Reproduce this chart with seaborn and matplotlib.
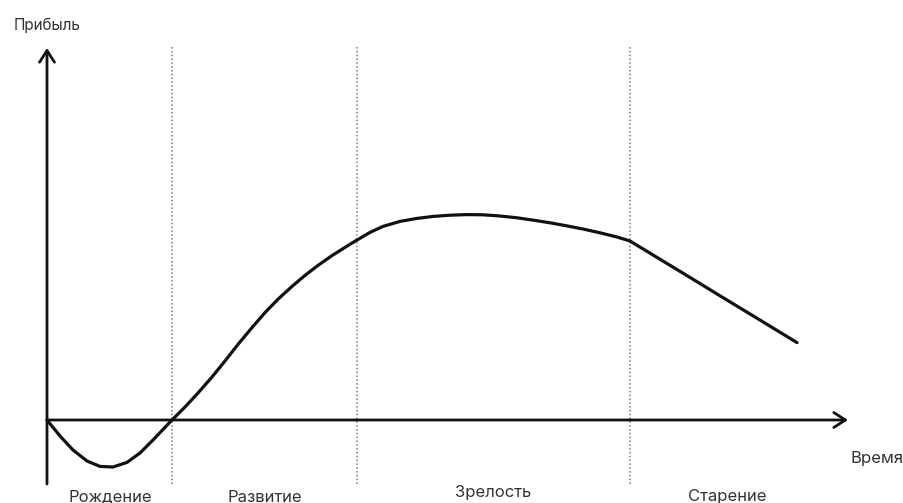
import numpy as np
import pandas as pd
import matplotlib
matplotlib.use("Agg")
import matplotlib.pyplot as plt
import seaborn as sns

# Profit curve over time (arbitrary units)
time = [0.0, 0.26, 0.52, 0.8, 1.06, 1.32, 1.6, 1.86, 2.12, 2.5,
        2.76, 3.02, 3.3, 3.56, 3.82, 4.1, 4.36, 4.62, 4.9, 5.16, 5.42, 5.7, 5.96, 6.2,
        6.46, 6.72, 7.06, 7.4, 7.73, 8.06, 8.4, 8.72, 9.06, 9.4, 9.73, 10.06, 10.39,
        10.72, 11.06, 11.4, 11.66,
        12.12, 12.8, 13.46, 14.12, 15.0]
profit = [0.0, -0.8, -1.5, -2.05, -2.32, -2.35, -2.12, -1.65, -1.0, 0.0,
          0.65, 1.35, 2.15, 2.95, 3.78, 4.62, 5.37, 6.04, 6.68, 7.23, 7.73, 8.22, 8.63, 9.0,
          9.38, 9.68, 9.93, 10.08, 10.18, 10.24, 10.27, 10.26, 10.2, 10.11, 9.99, 9.86, 9.71,
          9.55, 9.36, 9.15, 8.95,
          8.25, 7.22, 6.21, 5.21, 3.87]

# Stage boundaries and names
boundaries = [2.5, 6.2, 11.66]
stages = ["Рождение", "Развитие", "Зрелость", "Старение"]
stage_x = [1.26, 4.36, 8.92, 13.6]
stage_y = [-3.85, -3.85, -3.65, -3.85]

df = pd.DataFrame({"Время": time, "Прибыль": profit})

sns.set_theme(style="white")
plt.rcParams['font.family'] = ['Inter', 'DejaVu Sans']

fig = plt.figure(figsize=(9.04, 5.03), dpi=100)
ax = fig.add_axes([0, 0, 1, 1])

# Dotted stage separators
for b in boundaries:
    ax.plot([b, b], [-3.2, 18.65], color="#7a7a7a", lw=1.1, ls=(0, (1, 1.5)), zorder=1)

# Axes with arrows
arrow = dict(arrowstyle="->,head_length=0.7,head_width=0.45", color="#111111", lw=2.0,
             shrinkA=0, shrinkB=0)
ax.annotate("", xy=(16.02, 0), xytext=(0, 0), arrowprops=arrow, zorder=3)
ax.annotate("", xy=(0, 18.6), xytext=(0, -3.2), arrowprops=arrow, zorder=3)

# Profit curve
sns.lineplot(data=df, x="Время", y="Прибыль", color="#111111", lw=2.3, ax=ax, zorder=4)
ax.lines[-1].set_solid_joinstyle("round")
ax.set_xlim(-0.94, 17.14)
ax.set_ylim(-4.15, 21.0)
ax.axis("off")

# Labels
ax.text(0.0, 19.75, "Прибыль", ha="center", va="center", fontsize=11, color="#333333")
ax.text(16.6, -1.9, "Время", ha="center", va="center", fontsize=12, color="#333333")
for name, x, y in zip(stages, stage_x, stage_y):
    ax.text(x, y, name, ha="center", va="center", fontsize=12, color="#333333")

fig.savefig("out.png", dpi=100)
